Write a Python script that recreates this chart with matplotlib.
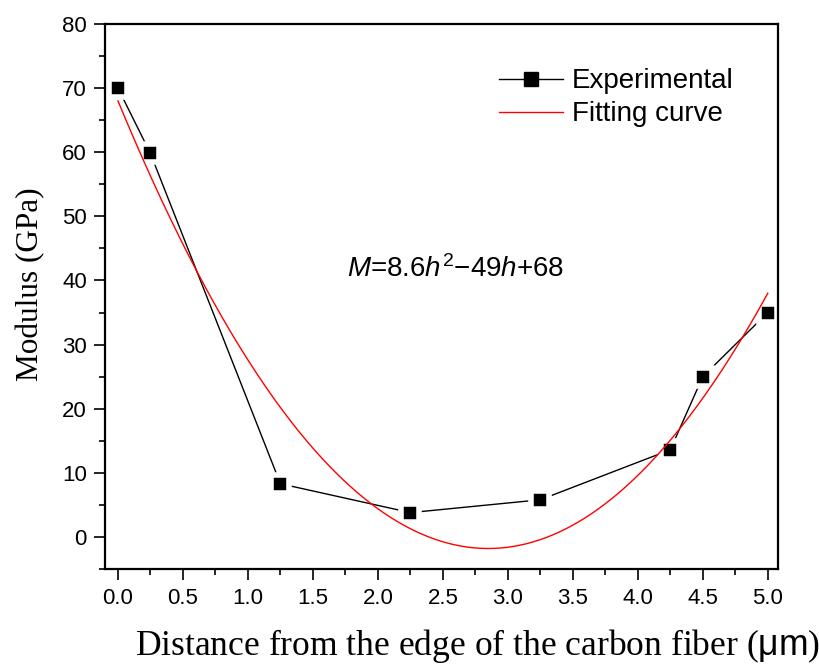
import matplotlib
matplotlib.use('Agg')
import matplotlib.pyplot as plt
import numpy as np
from matplotlib.lines import Line2D

# data
h_exp = [0.0, 0.25, 1.25, 2.25, 3.25, 4.25, 4.5, 5.0]
m_exp = [70.0, 59.8, 8.3, 3.8, 5.8, 13.6, 25.0, 35.0]

# fitting curve M = 8.6h^2 - 49h + 68
fit_coef = [8.6, -49.0, 68.0]
h_fit = np.linspace(0, 5, 300)
m_fit = np.polyval(fit_coef, h_fit)

plt.rcParams['mathtext.fontset'] = 'custom'
plt.rcParams['mathtext.rm'] = 'Liberation Sans'
plt.rcParams['mathtext.it'] = 'Liberation Sans:italic'
plt.rcParams['mathtext.sf'] = 'Liberation Sans'

fig = plt.figure(figsize=(8.2, 6.64), dpi=100)
ax = fig.add_axes([0.128, 0.143, 0.821, 0.821])

# line with gaps around markers (white halo on markers)
ax.plot(h_exp, m_exp, '-', color='black', lw=1.0, zorder=2)
ax.plot(h_exp, m_exp, 's', color='black', ms=13, mec='white', mew=4.0, zorder=3)
fit_line, = ax.plot(h_fit, m_fit, '-', color='red', lw=1.0, zorder=4)

ax.set_xlim(-0.1, 5.08)
ax.set_ylim(-5, 80)
ax.set_xticks(np.arange(0, 5.01, 0.5))
ax.set_xticks(np.arange(0, 5.01, 0.25), minor=True)
ax.set_yticks(np.arange(0, 81, 10))
ax.set_yticks(np.arange(-5, 81, 5), minor=True)
ax.xaxis.set_major_formatter(matplotlib.ticker.FormatStrFormatter('%.1f'))

for s in ax.spines.values():
    s.set_linewidth(1.6)
    s.set_zorder(6)
ax.tick_params(which='major', direction='out', length=8, width=1.2,
               labelsize=16, pad=5)
ax.tick_params(axis='x', which='major', pad=6)
ax.tick_params(which='minor', direction='out', length=4.5, width=1.2)
for lab in ax.get_xticklabels() + ax.get_yticklabels():
    lab.set_family('Liberation Sans')

ax.set_xlabel(r'Distance from the edge of the carbon fiber ($\mathsf{μm}$)',
              family='Liberation Serif', fontsize=25.6)
ax.xaxis.set_label_coords(0.553, -0.107)
ax.set_ylabel('Modulus (GPa)', family='Liberation Serif', fontsize=22.5)
ax.yaxis.set_label_coords(-0.088, 0.523)

ax.text(2.6, 41.8, r'$M$=8.6$h^{2}$−49$h$+68', ha='center', va='center',
        fontsize=20, family='Liberation Sans')

exp_handle = Line2D([], [], color='black', lw=1.0, marker='s', ms=10)
ax.legend([exp_handle, fit_line], ['Experimental', 'Fitting curve'],
          loc='upper left', bbox_to_anchor=(0.553, 0.959), frameon=False,
          prop={'family': 'Liberation Sans', 'size': 20},
          handlelength=2.3, handletextpad=0.3, labelspacing=0.25,
          borderpad=0.3)

fig.savefig('out.png', dpi=100)
